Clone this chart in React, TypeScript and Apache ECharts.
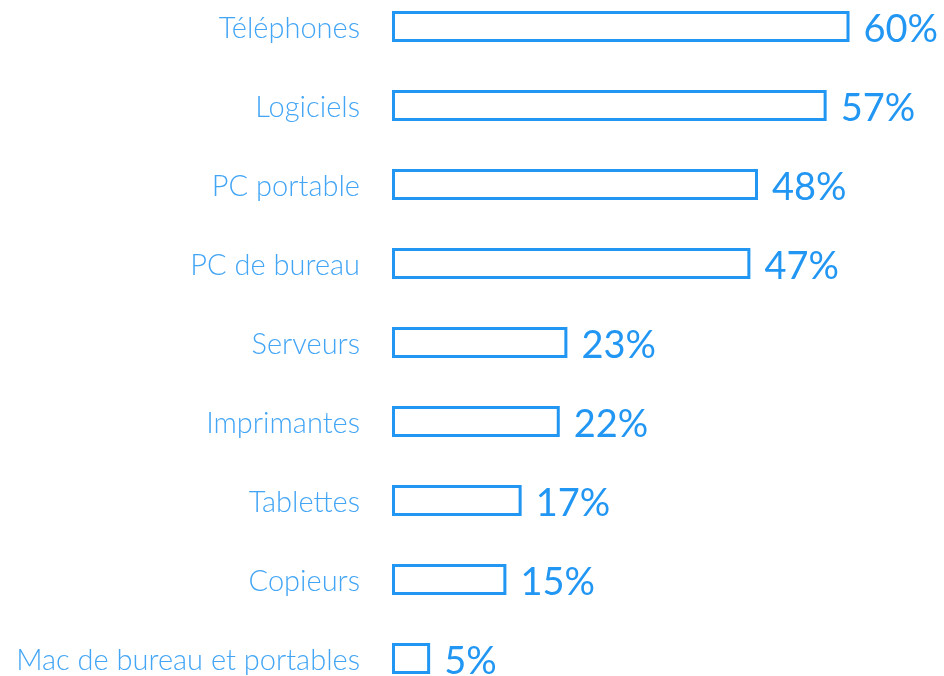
import React, { useEffect, useRef } from "react";
import * as echarts from "echarts";

const categories = [
  "Téléphones",
  "Logiciels",
  "PC portable",
  "PC de bureau",
  "Serveurs",
  "Imprimantes",
  "Tablettes",
  "Copieurs",
  "Mac de bureau et portables",
];
const values = [60, 57, 48, 47, 23, 22, 17, 15, 5];

export default function App() {
  const ref = useRef<HTMLDivElement>(null);
  useEffect(() => {
    if (!ref.current) return;
    const chart = echarts.init(ref.current, null, { renderer: "svg" });
    chart.setOption({
      animation: false,
      grid: { left: 392, right: 3, top: 0, bottom: 0 },
      xAxis: {
        type: "value",
        min: 0,
        max: 72,
        show: false,
      },
      yAxis: {
        type: "category",
        inverse: true,
        data: categories,
        axisLine: { show: false },
        axisTick: { show: false },
        splitLine: { show: false },
        axisLabel: {
          color: "#42A5F5",
          fontFamily: "Lato",
          fontWeight: 300,
          fontSize: 29,
          margin: 32,
        },
      },
      series: [
        {
          type: "bar",
          data: values,
          barWidth: 31,
          itemStyle: {
            color: "#ffffff",
            borderColor: "#2196F3",
            borderWidth: 3,
          },
          label: {
            show: true,
            position: "right",
            distance: 14,
            formatter: "{c}%",
            color: "#2196F3",
            fontFamily: "Lato",
            fontWeight: 400,
            fontSize: 38,
            lineHeight: 34,
          },
        },
      ],
    });
    return () => chart.dispose();
  }, []);
  return (
    <div
      ref={ref}
      style={{ position: "fixed", left: 0, top: -13, width: 944, height: 711 }}
    />
  );
}
